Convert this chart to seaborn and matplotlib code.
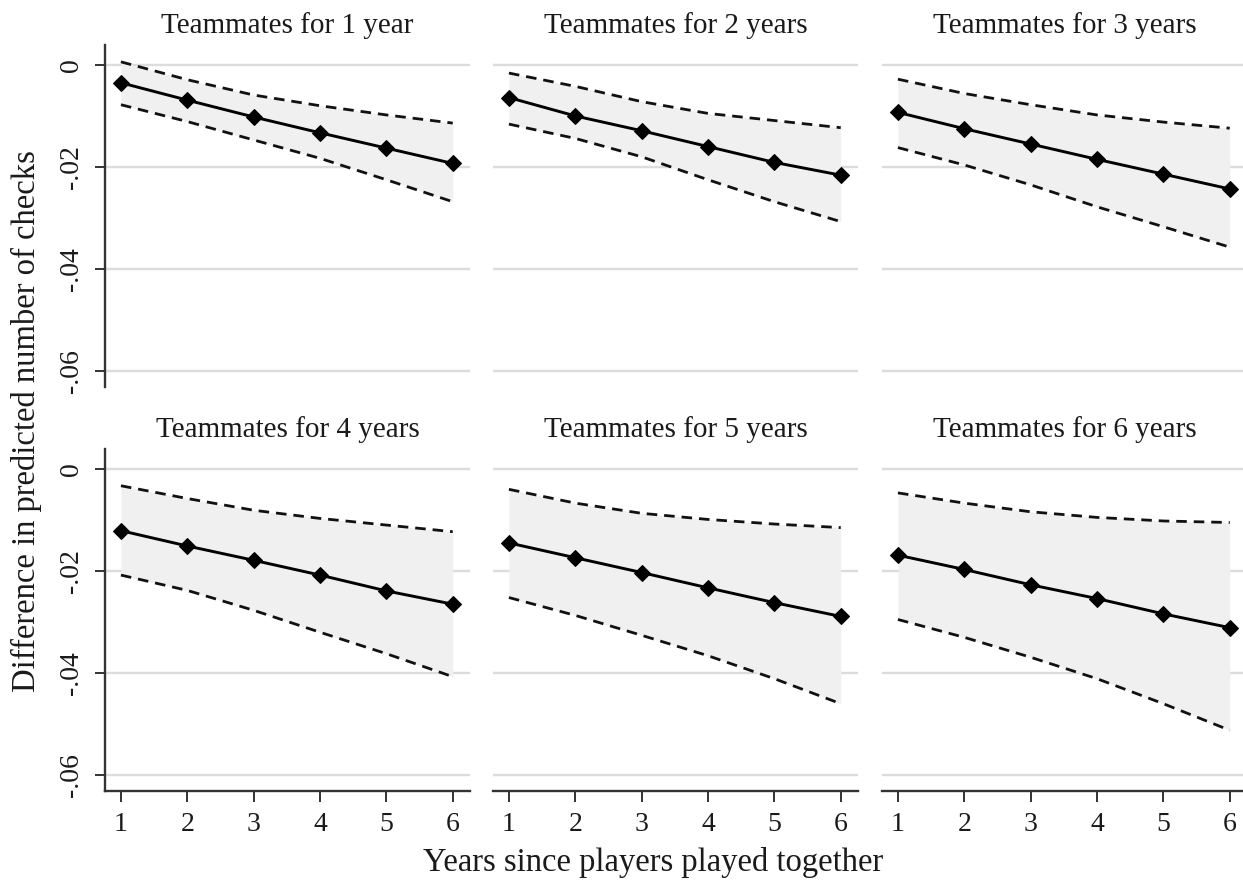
"""
Difference in predicted number of checks by years since players played together,
one panel per teammate tenure (1-6 years).
"""

import numpy as np
import pandas as pd
import matplotlib
matplotlib.use("Agg")
import matplotlib.pyplot as plt
import seaborn as sns

# ── данные ──
years = [1, 2, 3, 4, 5, 6]
panel_titles = ["Teammates for 1 year", "Teammates for 2 years", "Teammates for 3 years",
                "Teammates for 4 years", "Teammates for 5 years", "Teammates for 6 years"]

mean_1 = [-0.0035, -0.0069, -0.0102, -0.0133, -0.0163, -0.0193]
hi_1 = [0.0006, -0.0029, -0.0059, -0.0080, -0.0098, -0.0114]
lo_1 = [-0.0078, -0.0111, -0.0147, -0.0183, -0.0225, -0.0268]

mean_2 = [-0.0064, -0.0100, -0.0129, -0.0160, -0.0191, -0.0216]
hi_2 = [-0.0016, -0.0042, -0.0072, -0.0095, -0.0109, -0.0123]
lo_2 = [-0.0116, -0.0144, -0.0180, -0.0225, -0.0268, -0.0307]

mean_3 = [-0.0093, -0.0125, -0.0155, -0.0185, -0.0214, -0.0243]
hi_3 = [-0.0028, -0.0056, -0.0078, -0.0098, -0.0112, -0.0124]
lo_3 = [-0.0162, -0.0196, -0.0235, -0.0278, -0.0317, -0.0357]

mean_4 = [-0.0121, -0.0151, -0.0179, -0.0208, -0.0239, -0.0265]
hi_4 = [-0.0033, -0.0058, -0.0081, -0.0097, -0.0110, -0.0123]
lo_4 = [-0.0208, -0.0238, -0.0277, -0.0320, -0.0362, -0.0407]

mean_5 = [-0.0145, -0.0174, -0.0203, -0.0233, -0.0262, -0.0289]
hi_5 = [-0.0040, -0.0067, -0.0087, -0.0099, -0.0108, -0.0115]
lo_5 = [-0.0252, -0.0287, -0.0326, -0.0366, -0.0411, -0.0460]

mean_6 = [-0.0169, -0.0197, -0.0227, -0.0254, -0.0284, -0.0311]
hi_6 = [-0.0047, -0.0067, -0.0084, -0.0095, -0.0102, -0.0105]
lo_6 = [-0.0295, -0.0330, -0.0369, -0.0411, -0.0460, -0.0512]

y_ticks = [0, -0.02, -0.04, -0.06]
y_ticklabels = ["0", "-.02", "-.04", "-.06"]

x_label = "Years since players played together"
y_label = "Difference in predicted number of checks"

means = [mean_1, mean_2, mean_3, mean_4, mean_5, mean_6]
his = [hi_1, hi_2, hi_3, hi_4, hi_5, hi_6]
los = [lo_1, lo_2, lo_3, lo_4, lo_5, lo_6]

df = pd.concat([
    pd.DataFrame({"panel": t, "year": years, "mean": m, "hi": h, "lo": l})
    for t, m, h, l in zip(panel_titles, means, his, los)
], ignore_index=True)

sns.set_style("white")
plt.rcParams["font.family"] = ["Liberation Serif", "DejaVu Serif"]
plt.rcParams.update({"axes.edgecolor": "#333333", "xtick.color": "#333333",
                     "ytick.color": "#333333", "xtick.labelcolor": "#1a1a1a",
                     "ytick.labelcolor": "#1a1a1a", "text.color": "#1a1a1a"})

W, H = 1243, 882
fig = plt.figure(figsize=(W / 100, H / 100), dpi=100)
fig.patch.set_facecolor("white")

col_left = [105, 493, 882]   # пиксели
row_top = [45, 449]
ax_w, ax_h = 365, 342

for i, title in enumerate(panel_titles):
    r, c = divmod(i, 3)
    ax = fig.add_axes([col_left[c] / W, 1 - (row_top[r] + ax_h) / H, ax_w / W, ax_h / H])
    sub = df[df["panel"] == title]

    for yv in y_ticks:
        ax.axhline(yv, color="#dcdcdc", lw=1.7, zorder=0)
    ax.fill_between(sub["year"], sub["lo"], sub["hi"], color="#f0f0f0", lw=0, zorder=1)
    for col in ["hi", "lo"]:
        sns.lineplot(data=sub, x="year", y=col, ax=ax, color="#111111", lw=2.0,
                     linestyle=(0, (3.8, 2.5)), zorder=2)
    sns.lineplot(data=sub, x="year", y="mean", ax=ax, color="black", lw=2.1,
                 marker="D", markersize=8.5, markeredgecolor="black", zorder=3)

    ax.set_xlim(0.76, 6.26)
    ax.set_ylim(-0.0631, 0.0039)
    ax.set_title(title, fontsize=21, pad=8.5)
    ax.set_xlabel("")
    ax.set_ylabel("")
    ax.set_yticks(y_ticks)
    ax.set_xticks(years)

    for s in ["top", "right"]:
        ax.spines[s].set_visible(False)
    ax.spines["left"].set_visible(c == 0)
    ax.spines["bottom"].set_visible(r == 1)
    for s in ["left", "bottom"]:
        ax.spines[s].set_linewidth(1.7)

    if c == 0:
        ax.set_yticklabels(y_ticklabels, rotation=90, va="center")
        ax.tick_params(axis="y", length=7, width=1.4, pad=8, labelsize=20, left=True)
    else:
        ax.tick_params(axis="y", left=False, labelleft=False)
    if r == 1:
        ax.tick_params(axis="x", length=8, width=1.4, pad=7, labelsize=20, bottom=True)
    else:
        ax.tick_params(axis="x", bottom=False, labelbottom=False)

fig.text(653 / W, 1 - 862 / H, x_label, ha="center", va="center", fontsize=23.5)
fig.text(26 / W, 1 - 421 / H, y_label, ha="center", va="center", rotation=90, fontsize=23.5)

fig.savefig("out.png", dpi=100, facecolor="white")
plt.close(fig)
